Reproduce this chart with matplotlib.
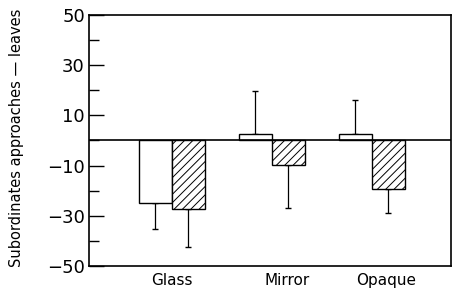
import matplotlib
matplotlib.use("Agg")
import matplotlib.pyplot as plt
import numpy as np

# data
conditions = ["Glass", "Mirror", "Opaque"]
open_means = [-25.0, 2.6, 2.6]
open_sd = [10.4, 17.2, 13.4]
hatched_means = [-27.2, -9.6, -19.2]
hatched_sd = [15.1, 17.4, 9.6]
label_pos = [0.0, 1.15, 2.14]

plt.rcParams["font.family"] = "DejaVu Sans"
plt.rcParams["hatch.linewidth"] = 0.7

fig = plt.figure(figsize=(4.55, 2.93), dpi=100)
ax = fig.add_axes([0.1956, 0.0922, 0.7956, 0.8566])

x = np.arange(len(conditions))
w = 0.33


def one_sided(means, sd):
    # error bar only drawn away from zero
    lower = [s if m < 0 else 0 for m, s in zip(means, sd)]
    upper = [s if m >= 0 else 0 for m, s in zip(means, sd)]
    return [lower, upper]


ax.bar(x - w / 2, open_means, w, color="white", edgecolor="black", linewidth=1.0, zorder=2)
ax.bar(x + w / 2, hatched_means, w, color="white", edgecolor="black", linewidth=1.0,
       hatch="////", zorder=2)
ax.errorbar(x - w / 2, open_means, yerr=one_sided(open_means, open_sd), fmt="none",
            ecolor="black", elinewidth=0.9, capsize=2, capthick=1.0, zorder=1)
ax.errorbar(x + w / 2, hatched_means, yerr=one_sided(hatched_means, hatched_sd), fmt="none",
            ecolor="black", elinewidth=0.9, capsize=2, capthick=1.0, zorder=1)

ax.axhline(0, color="black", linewidth=1.2, zorder=3)

ax.set_xlim(-0.83, 2.79)
ax.set_ylim(-50, 50)
ax.set_yticks([50, 30, 10, -10, -30, -50])
ax.set_yticks([40, 20, 0, -20, -40], minor=True)
ax.set_yticklabels(["50", "30", "10", "\u221210", "\u221230", "\u221250"])
ax.tick_params(axis="y", which="major", direction="in", length=11, width=1.0,
               labelsize=13, pad=3)
ax.tick_params(axis="y", which="minor", direction="in", length=7, width=1.0)
ax.set_xticks(label_pos)
ax.set_xticklabels(conditions)
ax.tick_params(axis="x", length=0, labelsize=11, pad=5)

for s in ax.spines.values():
    s.set_linewidth(1.2)

ax.set_ylabel("Subordinates approaches \u2014 leaves", fontsize=10.5)
ax.yaxis.set_label_coords(-0.18, 0.51)

fig.savefig("out.png", dpi=100)
